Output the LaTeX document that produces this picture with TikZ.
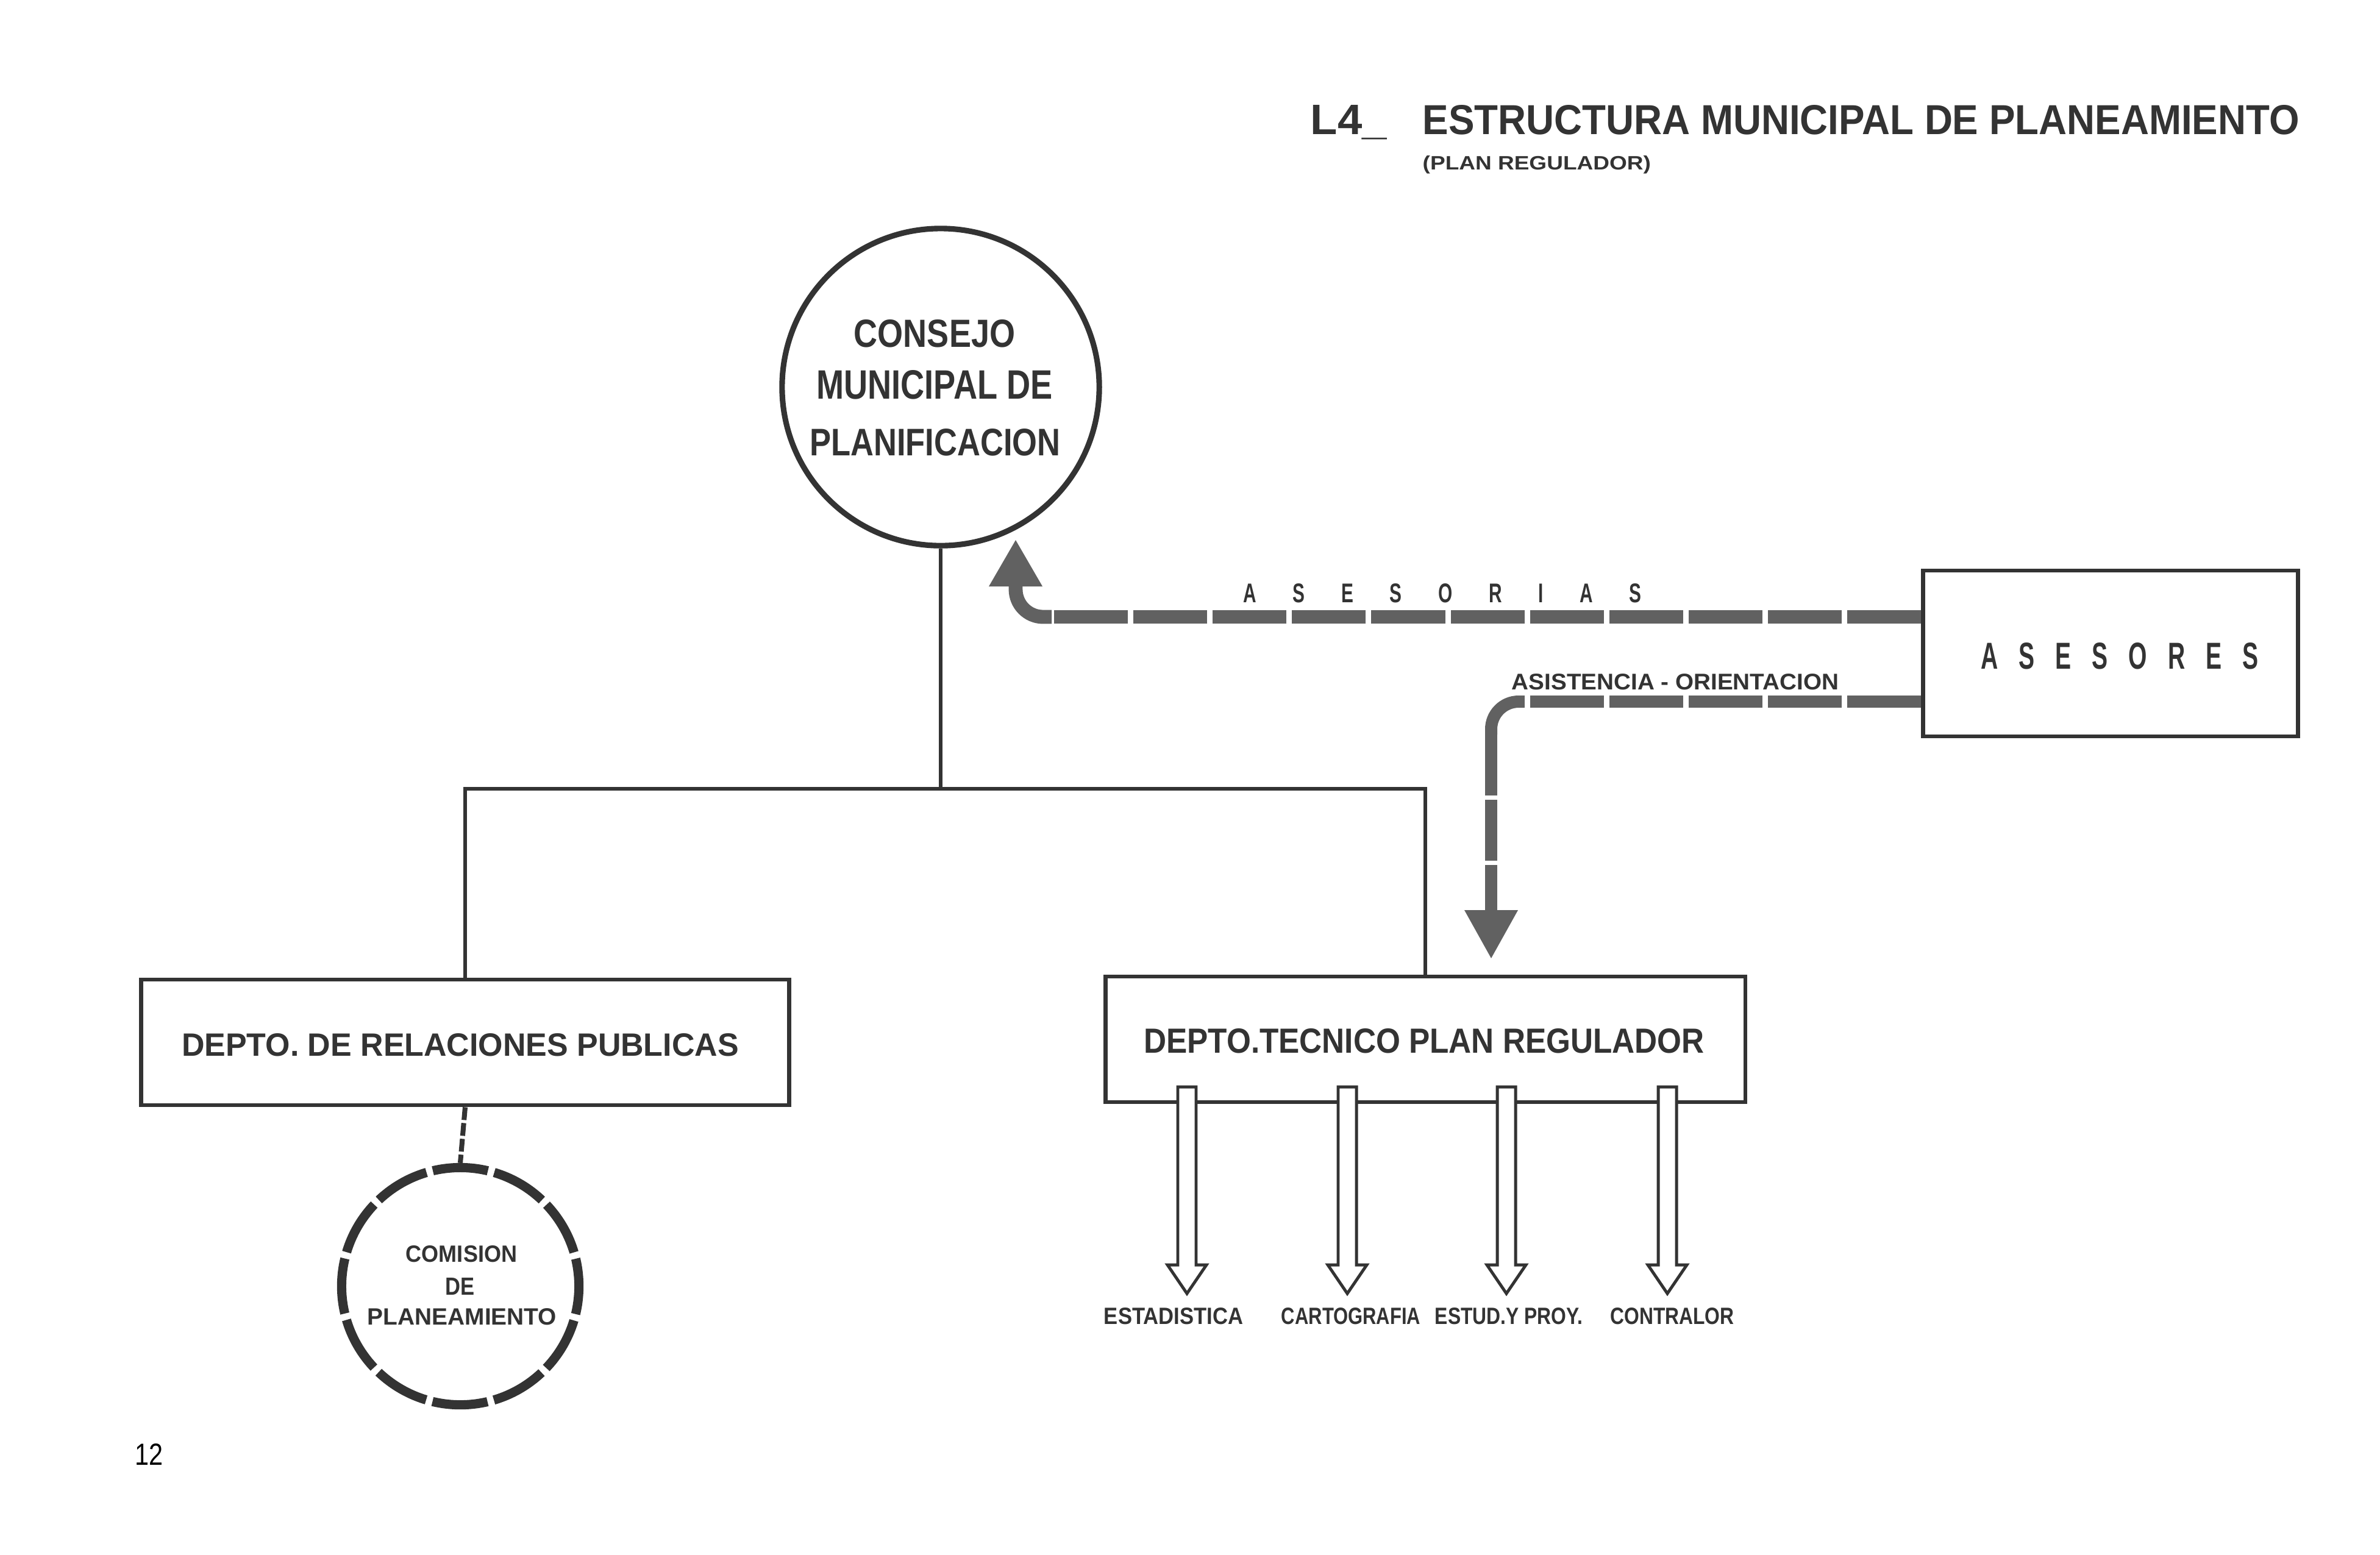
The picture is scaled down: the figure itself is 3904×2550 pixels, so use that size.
\documentclass[tikz,border=0pt]{standalone}
\usepackage{fontspec}
\setmainfont{Liberation Sans}
\usetikzlibrary{calc}
\definecolor{ink}{gray}{0.2}
\definecolor{bandc}{gray}{0.38}
\newcommand\fitx[3]{\resizebox{#1}{#2}{\bfseries #3}}
\begin{document}
\begin{tikzpicture}[x=0.01cm,y=-0.01cm,
  tree/.style={draw=ink,line width=1.7pt},
  boxn/.style={draw=ink,line width=1.9pt,fill=white,inner sep=0pt,minimum height=2.06cm},
  txt/.style={inner sep=0pt,text=ink,anchor=base},
  bandline/.style={draw=bandc,line cap=butt},
  bandhead/.style={fill=bandc},
  hollow/.style={draw=ink,line width=1.4pt,fill=white,line join=miter}]
\useasboundingbox (0,0) rectangle (3904,2550);
\fill[white] (0,0) rectangle (3904,2550);

% title
\node[txt,anchor=base west] (t1) at (2149,220) {\fitx{1.25cm}{0.48cm}{L4\_}};
\node[txt,anchor=base west] (t2) at (2333,220) {\fitx{14.37cm}{0.48cm}{ESTRUCTURA MUNICIPAL DE PLANEAMIENTO}};
\node[txt,anchor=base west] (t3) at (2333,278) {\fitx{3.74cm}{0.23cm}{(PLAN REGULADOR)}};

% consejo
\node[circle,draw=ink,line width=2.6pt,minimum size=5.2cm,inner sep=0pt] (consejo) at (1543,635) {};
\node[txt] (cl1) at (1533,569) {\fitx{2.64cm}{0.45cm}{CONSEJO}};
\node[txt] (cl2) at (1533,654) {\fitx{3.87cm}{0.47cm}{MUNICIPAL DE}};
\node[txt] (cl3) at (1534,747) {\fitx{4.11cm}{0.44cm}{PLANIFICACION}};

% boxes
\node[boxn,minimum width=10.63cm] (rp) at (763,1710) {};
\node[txt] (rpt) at (755,1732) {\fitx{9.13cm}{0.37cm}{DEPTO. DE RELACIONES PUBLICAS}};
\node[boxn,minimum width=10.49cm] (dt) at (2338,1705) {};
\node[txt] (dtt) at (2336,1727) {\fitx{9.19cm}{0.40cm}{DEPTO.TECNICO PLAN REGULADOR}};
\node[boxn,minimum width=6.15cm,minimum height=2.72cm] (ases) at (3462,1072) {};
\node[txt] (ast) at (3477,1097) {\fitx{4.55cm}{0.43cm}{A\hspace{0.87em}S\hspace{0.87em}E\hspace{0.87em}S\hspace{0.87em}O\hspace{0.87em}R\hspace{0.87em}E\hspace{0.87em}S}};

% tree
\coordinate (j) at (1543,1294);
\draw[tree] (consejo.south) -- (j);
\draw[tree] (rp.north) -- (rp.north |- j) -- (dt.north |- j) -- (dt.north);

% comision
\node[circle,draw=ink,line width=4.3pt,minimum size=3.89cm,inner sep=0pt,
      dash pattern=on 0.91cm off 0.108cm,dash phase=0.455cm] (com) at (755,2110) {};
\draw[ink,line width=2.3pt,dash pattern=on 0.21cm off 0.05cm] (rp.south) -- (com.north);
\node[txt] (cm1) at (757,2070) {\fitx{1.82cm}{0.27cm}{COMISION}};
\node[txt] (cm2) at (755,2124) {\fitx{0.48cm}{0.28cm}{DE}};
\node[txt] (cm3) at (758,2173) {\fitx{3.10cm}{0.27cm}{PLANEAMIENTO}};

% asesorias band
\coordinate (a1) at (1725,1012);
\coordinate (a2) at (1666,958);
\draw[bandline,line width=6.5pt,dash pattern=on 1.21cm off 0.09cm] (ases.west |- a1) -- (a1);
\draw[bandline,line width=6.5pt,rounded corners=0.45cm] (a1) -- (a1 -| a2) -- (a2);
\fill[bandhead] (1622,962) -- (1710,962) -- (1666,886) -- cycle;
\node[txt] (lab1) at (2366,988) {\fitx{6.53cm}{0.31cm}{A\hspace{2em}S\hspace{2em}E\hspace{2em}S\hspace{2em}O\hspace{2em}R\hspace{2em}I\hspace{2em}A\hspace{2em}S}};

% asistencia band
\coordinate (b1) at (2500,1151);
\coordinate (b2) at (2446,1205);
\coordinate (b3) at (2446,1497);
\draw[bandline,line width=5.7pt,dash pattern=on 1.21cm off 0.09cm] (ases.west |- b1) -- (b1);
\draw[bandline,line width=5.7pt,rounded corners=0.45cm] (b1) -- (b1 -| b2) -- (b2);
\draw[bandline,line width=5.7pt,dash pattern=on 1.0cm off 0.07cm] (b2) -- (b3);
\fill[bandhead] (2402,1493) -- (2490,1493) -- (2446,1572) -- cycle;
\node[txt] (lab2) at (2748,1131) {\fitx{5.36cm}{0.26cm}{ASISTENCIA - ORIENTACION}};

% hollow arrows
\foreach \x in {1947,2210,2471,2735}{
  \draw[hollow] (\x-15,1783) -- (\x+15,1783) -- (\x+15,2075) -- (\x+32,2075) -- (\x,2122)
     -- (\x-32,2075) -- (\x-15,2075) -- cycle;
}
\node[txt] (est) at (1925,2172) {\fitx{2.28cm}{0.27cm}{ESTADISTICA}};
\node[txt] (car) at (2216,2172) {\fitx{2.28cm}{0.27cm}{CARTOGRAFIA}};
\node[txt] (eyp) at (2475,2172) {\fitx{2.42cm}{0.27cm}{ESTUD.Y PROY.}};
\node[txt] (con) at (2743,2172) {\fitx{2.03cm}{0.27cm}{CONTRALOR}};

% page number
\node[txt,text=black] (pg) at (245,2403) {\resizebox{0.46cm}{0.35cm}{12}};
\end{tikzpicture}
\end{document}
